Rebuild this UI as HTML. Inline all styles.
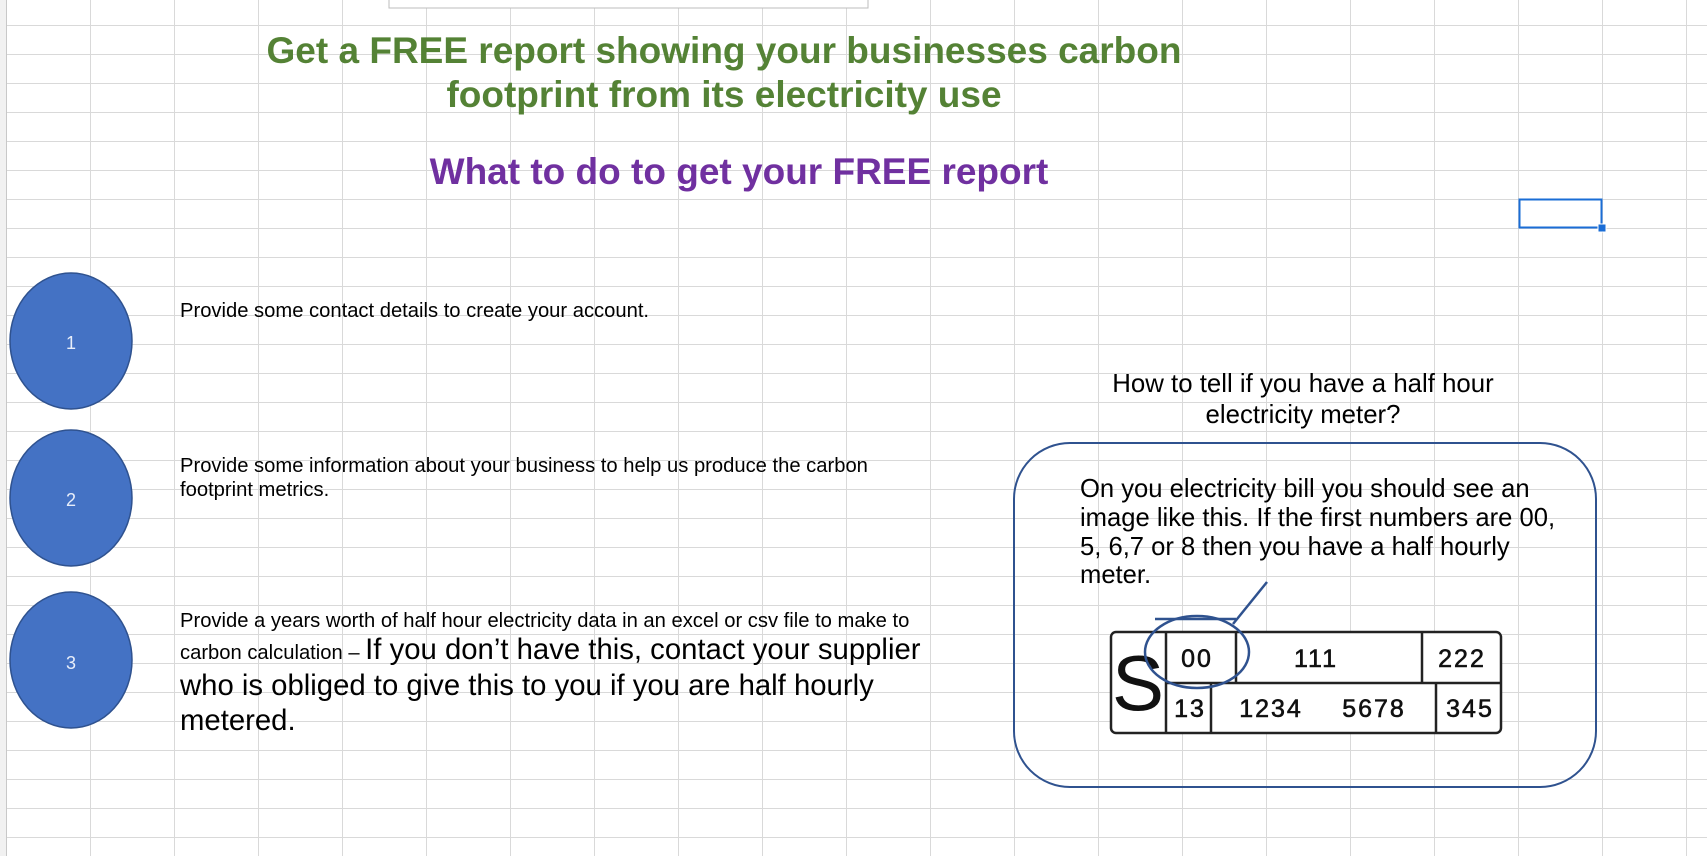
<!DOCTYPE html>
<html><head><meta charset="utf-8"><style>
html,body{margin:0;padding:0;}
body{width:1707px;height:856px;overflow:hidden;background:#fff;position:relative;font-family:"Liberation Sans",Arial,sans-serif;}
#grid{position:absolute;left:0;top:0;width:1707px;height:856px;
background-image:linear-gradient(to right,#d9d9d9 1px,transparent 1px),linear-gradient(to bottom,#d9d9d9 1px,transparent 1px);
background-size:84px 29px;background-position:6px 25px;}
#rowhdr{position:absolute;left:0;top:0;width:6px;height:856px;background:#f1f1f1;border-right:1px solid #c8c8c8;}
svg{position:absolute;left:0;top:0;}
</style></head><body>
<div id="grid"></div>
<div id="rowhdr"></div>
<svg width="1707" height="856" viewBox="0 0 1707 856" font-family="Liberation Sans, Arial, sans-serif">
<rect x="389" y="-2" width="479" height="10" fill="#fff" stroke="#bdbdbd" stroke-width="1"/>
<g fill="#548235" font-weight="bold" font-size="37" text-anchor="middle">
<text x="724" y="63">Get a FREE report showing your businesses carbon</text>
<text x="724" y="107">footprint from its electricity use</text>
</g>
<text x="739" y="184" fill="#7030a0" font-weight="bold" font-size="37" text-anchor="middle">What to do to get your FREE report</text>
<g>
<rect x="1519.5" y="199.5" width="82" height="28" fill="none" stroke="#1a6dd6" stroke-width="2"/>
<rect x="1598" y="224" width="8" height="8" fill="#1a6dd6" stroke="#fff" stroke-width="1"/>
</g>
<g>
<ellipse cx="71" cy="341" rx="61" ry="68" fill="#4472c4" stroke="#2f528f" stroke-width="1.5"/>
<text x="71" y="349" fill="#e8eefa" font-size="18" text-anchor="middle">1</text>
</g>
<g>
<ellipse cx="71" cy="498" rx="61" ry="68" fill="#4472c4" stroke="#2f528f" stroke-width="1.5"/>
<text x="71" y="506" fill="#e8eefa" font-size="18" text-anchor="middle">2</text>
</g>
<g>
<ellipse cx="71" cy="660" rx="61" ry="68" fill="#4472c4" stroke="#2f528f" stroke-width="1.5"/>
<text x="71" y="669" fill="#e8eefa" font-size="18" text-anchor="middle">3</text>
</g>
<text x="180" y="317" font-size="20.2" fill="#000">Provide some contact details to create your account.</text>
<g font-size="20.2" fill="#000">
<text x="180" y="472">Provide some information about your business to help us produce the carbon</text>
<text x="180" y="496">footprint metrics.</text>
</g>
<g fill="#000">
<text x="180" y="627" font-size="20.2">Provide a years worth of half hour electricity data in an excel or csv file to make to</text>
<text x="180" y="659"><tspan font-size="20.2">carbon calculation – </tspan><tspan font-size="29.3">If you don’t have this, contact your supplier</tspan></text>
<text x="180" y="695" font-size="29.3">who is obliged to give this to you if you are half hourly</text>
<text x="180" y="730" font-size="29.3">metered.</text>
</g>
<g font-size="25.8" fill="#000" text-anchor="middle">
<text x="1303" y="392">How to tell if you have a half hour</text>
<text x="1303" y="423">electricity meter?</text>
</g>
<rect x="1014" y="443" width="582" height="344" rx="56" ry="56" fill="none" stroke="#2f528f" stroke-width="2"/>
<g font-size="25.6" fill="#000">
<text x="1080" y="497">On you electricity bill you should see an</text>
<text x="1080" y="526">image like this. If the first numbers are 00,</text>
<text x="1080" y="555">5, 6,7 or 8 then you have a half hourly</text>
<text x="1080" y="583">meter.</text>
</g>
<g stroke="#222" stroke-width="2.5" fill="none">
<rect x="1111" y="632" width="390" height="101" rx="5" fill="#fff"/>
<line x1="1166" y1="632" x2="1166" y2="733"/>
<line x1="1166" y1="683" x2="1501" y2="683"/>
<line x1="1236" y1="632" x2="1236" y2="683"/>
<line x1="1422" y1="632" x2="1422" y2="683"/>
<line x1="1211" y1="683" x2="1211" y2="733"/>
<line x1="1436" y1="683" x2="1436" y2="733"/>
</g>
<g fill="#111" font-size="25" text-anchor="middle" letter-spacing="2" stroke="#111" stroke-width="0.6">
<text x="1138" y="710" font-size="78" letter-spacing="0" stroke-width="0">S</text>
<text x="1197" y="667">00</text>
<text x="1316" y="667">111</text>
<text x="1462" y="667">222</text>
<text x="1190" y="717">13</text>
<text x="1271" y="717">1234</text>
<text x="1374" y="717">5678</text>
<text x="1470" y="717">345</text>
</g>
<g stroke="#2f528f" stroke-width="2.5" fill="none">
<ellipse cx="1197" cy="652" rx="52" ry="36"/>
<line x1="1155" y1="619" x2="1236" y2="619"/>
<line x1="1233" y1="624" x2="1267" y2="582"/>
</g>
</svg>
</body></html>
